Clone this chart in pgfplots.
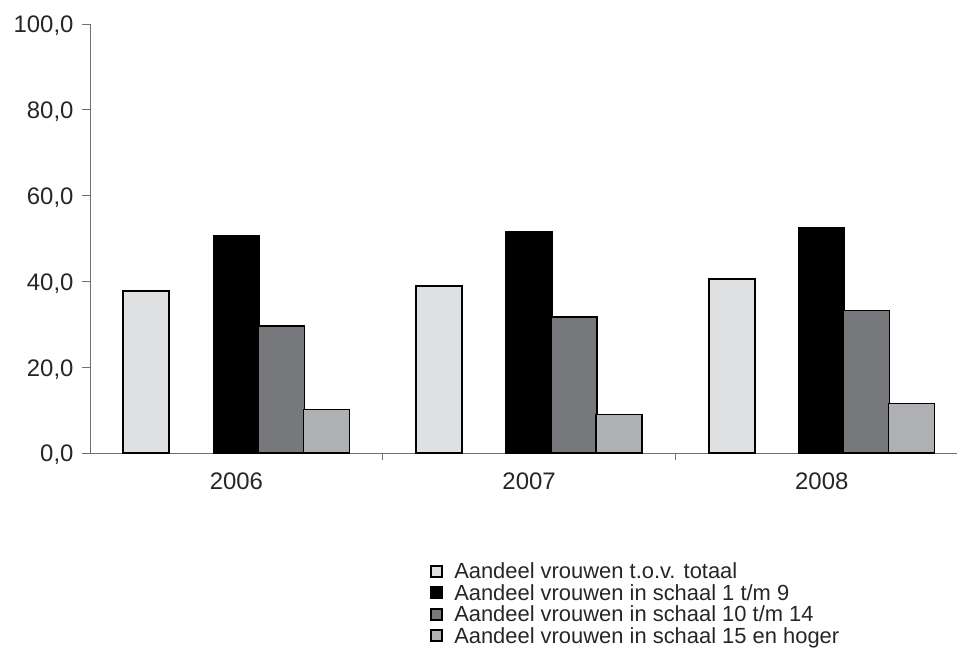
\documentclass[border=0pt]{standalone}
\usepackage{pgfplots}
\pgfplotsset{compat=1.18}
\usepackage{fontspec}
\setmainfont{Liberation Sans}
\definecolor{barA}{HTML}{DFE0E2}
\definecolor{barC}{HTML}{77787C}
\definecolor{barD}{HTML}{AFB0B4}
\definecolor{axisgray}{HTML}{707070}

\begin{document}
\begin{tikzpicture}
\useasboundingbox (-90bp,-210bp) rectangle (867bp,453bp);
\begin{axis}[
  at={(0,0)}, anchor=south west,
  scale only axis, width=867bp, height=429bp,
  ymin=0, ymax=100, ytick={0,20,...,100},
  xmin=-0.5, xmax=2.462,
  xtick={0,1,2}, xticklabels={2006,2007,2008},
  minor xtick={0.5,1.5},
  axis lines*=left,
  axis line style={axisgray, line width=0.8bp},
  tick align=outside,
  major tick length=8bp, minor tick length=7bp,
  major x tick style={draw=none},
  tick style={axisgray, line width=0.8bp},
  ybar, bar width=46bp,
  /pgf/number format/.cd, fixed, fixed zerofill, precision=1, use comma, assume math mode=true,
  /pgfplots/.cd,
  ticklabel style={font=\fontsize{24}{26}\selectfont, text=black!85},
  yticklabel style={xshift=-5bp, yshift=-2bp},
  xticklabel style={yshift=-8bp},
  legend style={at={(0.389,-0.25)}, anchor=north west, draw=none, fill=none,
    font=\fontsize{22}{24}\selectfont, text=black!85,
    nodes={inner ysep=1bp, text height=15.5bp, text depth=4bp},
    /tikz/every odd column/.append style={column sep=9bp}},
  legend cell align=left,
  legend image code/.code={\draw[#1, line width=1.8bp] (0bp,-3.5bp) rectangle (11bp,7.5bp);},
]
\addplot[fill=barA, draw=black, line width=2bp, bar shift=-90bp] coordinates {(0,37.8) (1,39.0) (2,40.5)};
\addplot[fill=black, draw=black, line width=1.2bp, bar shift=0bp] coordinates {(0,50.6) (1,51.6) (2,52.6)};
\addplot[fill=barC, draw=black, line width=1.3bp, bar shift=45bp] coordinates {(0,29.6) (1,31.7) (2,33.2)};
\addplot[fill=barD, draw=black, line width=1.3bp, bar shift=90bp] coordinates {(0,10.1) (1,8.9) (2,11.5)};
\legend{Aandeel vrouwen t.o.v. totaal, Aandeel vrouwen in schaal 1 t/m 9, Aandeel vrouwen in schaal 10 t/m 14, Aandeel vrouwen in schaal 15 en hoger}
\end{axis}
\end{tikzpicture}
\end{document}
